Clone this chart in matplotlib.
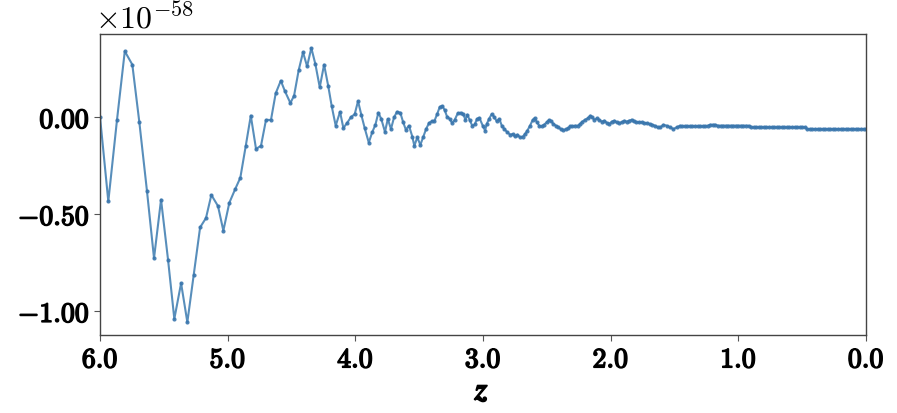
import matplotlib
matplotlib.use("Agg")
import matplotlib.pyplot as plt
import matplotlib.patheffects as pe
from matplotlib.ticker import FuncFormatter

plt.rcParams['mathtext.fontset'] = 'cm'
plt.rcParams['axes.unicode_minus'] = True

# redshift samples and values (in units of 1e-58)
z_osc = [6.000, 5.935, 5.867, 5.806, 5.747, 5.692, 5.632, 5.577, 5.522, 5.467,
         5.418, 5.365, 5.316, 5.266, 5.216, 5.170, 5.128, 5.076, 5.034, 4.987,
         4.942, 4.901, 4.859, 4.819, 4.778, 4.739, 4.700, 4.661, 4.624, 4.584,
         4.551, 4.509, 4.480, 4.444, 4.410, 4.378, 4.345, 4.313, 4.279, 4.245,
         4.212, 4.185, 4.154, 4.120, 4.094, 4.063, 4.036, 4.005, 3.979, 3.953,
         3.927, 3.895, 3.867, 3.843, 3.820, 3.797, 3.768, 3.746, 3.721, 3.697,
         3.674, 3.648, 3.627, 3.605, 3.580, 3.554, 3.538, 3.515, 3.491, 3.470,
         3.446, 3.423, 3.399, 3.381, 3.360, 3.339, 3.319, 3.300, 3.282, 3.261,
         3.243, 3.222, 3.198, 3.175, 3.154, 3.138, 3.123, 3.104, 3.084, 3.065,
         3.047, 3.029, 3.002, 2.984, 2.971, 2.953, 2.932, 2.914, 2.893, 2.872,
         2.853, 2.833, 2.809, 2.788, 2.767, 2.749, 2.731, 2.710, 2.689, 2.671,
         2.653, 2.632, 2.611, 2.595, 2.579, 2.559, 2.540, 2.522, 2.501, 2.483,
         2.465, 2.449, 2.428, 2.410, 2.391, 2.371, 2.350, 2.332, 2.318, 2.300,
         2.279, 2.258, 2.240, 2.222, 2.201, 2.180, 2.159, 2.144, 2.128, 2.109,
         2.091, 2.070, 2.050, 2.029, 2.011, 1.992, 1.971, 1.953, 1.935, 1.914,
         1.893, 1.874, 1.856, 1.835, 1.817, 1.799, 1.778, 1.757, 1.737, 1.715,
         1.694, 1.674, 1.653, 1.632, 1.611, 1.587, 1.561, 1.535, 1.509, 1.483,
         1.457]
v_osc = [0.000, -0.435, -0.015, 0.339, 0.270, -0.027, -0.383, -0.728, -0.426, -0.737,
         -1.041, -0.857, -1.058, -0.814, -0.569, -0.521, -0.402, -0.459, -0.586, -0.442,
         -0.373, -0.313, -0.151, 0.007, -0.165, -0.148, -0.015, -0.015, 0.122, 0.187,
         0.132, 0.072, 0.110, 0.241, 0.334, 0.261, 0.356, 0.272, 0.153, 0.270,
         0.158, 0.055, -0.045, 0.027, -0.057, -0.029, -0.002, 0.015, 0.082, 0.010,
         -0.057, -0.132, -0.077, -0.040, 0.022, -0.010, -0.077, -0.010, -0.062, -0.002,
         0.027, 0.022, -0.024, -0.065, -0.045, -0.101, -0.149, -0.105, -0.144, -0.105,
         -0.062, -0.031, -0.021, -0.021, 0.014, 0.052, 0.057, 0.035, 0.002, -0.010,
         -0.031, -0.015, 0.019, 0.022, 0.014, -0.015, 0.012, -0.017, -0.045, -0.038,
         -0.010, -0.004, -0.045, -0.070, -0.036, -0.010, 0.015, 0.002, -0.022, -0.010,
         -0.045, -0.062, -0.079, -0.091, -0.088, -0.100, -0.091, -0.105, -0.101, -0.088,
         -0.070, -0.045, -0.015, -0.005, -0.027, -0.045, -0.048, -0.040, -0.027, -0.015,
         -0.022, -0.036, -0.045, -0.053, -0.062, -0.067, -0.064, -0.058, -0.048, -0.048,
         -0.045, -0.045, -0.036, -0.024, -0.014, -0.007, 0.007, -0.002, -0.014, -0.007,
         -0.014, -0.024, -0.019, -0.031, -0.036, -0.024, -0.019, -0.027, -0.031, -0.027,
         -0.019, -0.024, -0.019, -0.014, -0.022, -0.027, -0.027, -0.027, -0.031, -0.032,
         -0.036, -0.040, -0.045, -0.053, -0.053, -0.040, -0.045, -0.053, -0.062, -0.053,
         -0.045]

# late-time tail, where the curve has settled
z_tail = [1.44, 1.42, 1.40, 1.38, 1.36, 1.34, 1.32, 1.30, 1.28, 1.26,
          1.24, 1.22, 1.20, 1.18, 1.16, 1.14, 1.12, 1.10, 1.08, 1.06,
          1.04, 1.02, 1.00, 0.98, 0.96, 0.94, 0.92, 0.90, 0.88, 0.86,
          0.84, 0.82, 0.80, 0.78, 0.76, 0.74, 0.72, 0.70, 0.68, 0.66,
          0.64, 0.62, 0.60, 0.58, 0.56, 0.54, 0.52, 0.50, 0.48, 0.46,
          0.44, 0.42, 0.40, 0.38, 0.36, 0.34, 0.32, 0.30, 0.28, 0.26,
          0.24, 0.22, 0.20, 0.18, 0.16, 0.14, 0.12, 0.10, 0.08, 0.06,
          0.04, 0.02, 0.00]
v_tail = [-0.048, -0.048, -0.048, -0.048, -0.048, -0.048, -0.048, -0.048, -0.048, -0.048,
          -0.045, -0.040, -0.040, -0.040, -0.045, -0.045, -0.045, -0.045, -0.045, -0.045,
          -0.045, -0.045, -0.045, -0.045, -0.045, -0.045, -0.045, -0.053, -0.053, -0.053,
          -0.053, -0.053, -0.053, -0.053, -0.053, -0.053, -0.053, -0.053, -0.053, -0.053,
          -0.053, -0.053, -0.053, -0.053, -0.053, -0.053, -0.053, -0.053, -0.053, -0.062,
          -0.062, -0.062, -0.062, -0.062, -0.062, -0.062, -0.062, -0.062, -0.062, -0.062,
          -0.062, -0.062, -0.062, -0.062, -0.062, -0.062, -0.062, -0.062, -0.062, -0.062,
          -0.062, -0.062, -0.062]

x_ticks = [6.0, 5.0, 4.0, 3.0, 2.0, 1.0, 0.0]
y_ticks = [0.0, -0.5, -1.0]


def main():
    fig = plt.figure(figsize=(8.97, 4.14), dpi=100)
    ax = fig.add_axes([0.1115, 0.1884, 0.854, 0.7271])

    z = z_osc + z_tail
    v = v_osc + v_tail
    ax.plot(z, v, color='#4682b4', lw=1.5, alpha=0.9, marker='o', ms=3.0, mew=0,
            mfc='#3a76ad')

    ax.set_xlim(6.0, 0.0)
    ax.set_ylim(-1.124, 0.428)
    ax.set_xticks(x_ticks)
    ax.set_yticks(y_ticks)
    ax.xaxis.set_major_formatter(FuncFormatter(lambda x, p: r'$\mathbf{%.1f}$' % x))
    ax.yaxis.set_major_formatter(FuncFormatter(lambda y, p: r'$\mathbf{%.2f}$' % y))
    ax.tick_params(labelsize=20, length=4, width=0.8, color='#555555')
    for s in ax.spines.values():
        s.set_color('#444444')
        s.set_linewidth(1.0)

    # fake the bold-extended look by stroking the glyphs
    bold = [pe.withStroke(linewidth=1.1, foreground='black')]
    for lab in ax.get_xticklabels() + ax.get_yticklabels():
        lab.set_path_effects(bold)

    xl = ax.set_xlabel(r'$\mathbfit{z}$', fontsize=22, labelpad=2)
    xl.set_path_effects(bold)
    ax.text(-0.006, 0.995, r'$\times 10^{-58}$', transform=ax.transAxes,
            fontsize=23, ha='left', va='bottom')

    plt.savefig('out.png', dpi=100)


if __name__ == '__main__':
    main()
